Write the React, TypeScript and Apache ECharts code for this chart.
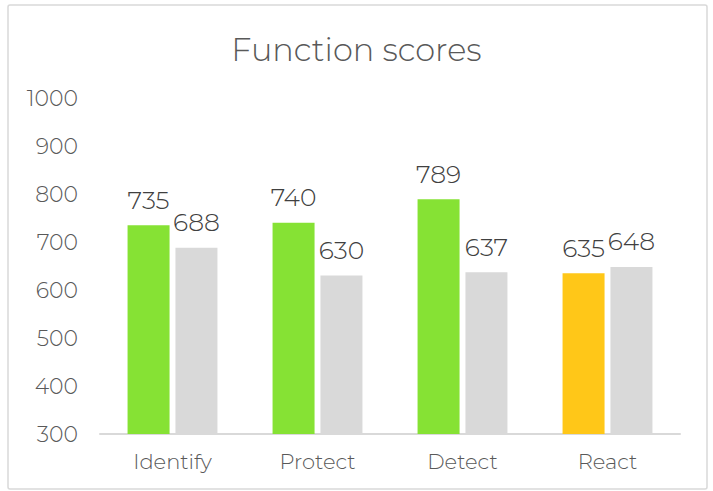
import React, { useEffect, useRef } from "react";
import * as echarts from "echarts";

const categories = ["Identify", "Protect", "Detect", "React"];
const currentScores = [735, 740, 789, 635];
const previousScores = [688, 630, 637, 648];
const currentColors = ["#86E234", "#86E234", "#86E234", "#FFC718"];
const yTicks = { min: 300, max: 1000, interval: 100 };

export default function App() {
  const ref = useRef<HTMLDivElement>(null);
  useEffect(() => {
    document.body.style.margin = "0";
    const chart = echarts.init(ref.current!, null, { renderer: "svg" });
    const font = "Montserrat, 'Open Sans', 'Noto Sans', sans-serif";
    const w = 300;
    chart.setOption({
      animation: false,
      backgroundColor: "#fff",
      textStyle: { fontFamily: font },
      title: {
        text: "Function scores",
        left: "center",
        top: 28,
        textStyle: { fontFamily: font, fontSize: 32, fontWeight: w, color: "#595959" },
      },
      graphic: [
        {
          type: "rect",
          shape: { x: 8, y: 5, width: 699, height: 484, r: 2 },
          style: { fill: "none", stroke: "#D9D9D9", lineWidth: 1.5 },
          silent: true,
        },
      ],
      grid: { left: 100, right: 33, top: 98, bottom: 57 },
      xAxis: {
        type: "category",
        data: categories,
        axisLine: { lineStyle: { color: "#D9D9D9", width: 2 } },
        axisTick: { show: false },
        axisLabel: { color: "#595959", fontSize: 21, fontWeight: w, margin: 17, fontFamily: font },
      },
      yAxis: {
        type: "value",
        min: yTicks.min,
        max: yTicks.max,
        interval: yTicks.interval,
        splitLine: { show: false },
        axisLine: { show: false },
        axisTick: { show: false },
        axisLabel: {
          color: "#595959",
          fontSize: 22,
          fontWeight: w,
          margin: 22,
          fontFamily: font,
          formatter: (v: number) => String(v),
        },
      },
      series: [
        {
          type: "bar",
          data: currentScores.map((v, i) => ({ value: v, itemStyle: { color: currentColors[i] } })),
          barWidth: 42,
          barGap: "14%",
          label: { show: true, position: "top", distance: 13, color: "#404040", fontSize: 25, fontWeight: w, fontFamily: font },
        },
        {
          type: "bar",
          data: previousScores,
          barWidth: 42,
          itemStyle: { color: "#D9D9D9" },
          label: { show: true, position: "top", distance: 13, color: "#404040", fontSize: 25, fontWeight: w, fontFamily: font },
        },
      ],
    });
    return () => chart.dispose();
  }, []);
  return <div ref={ref} style={{ width: 713, height: 491 }} />;
}
